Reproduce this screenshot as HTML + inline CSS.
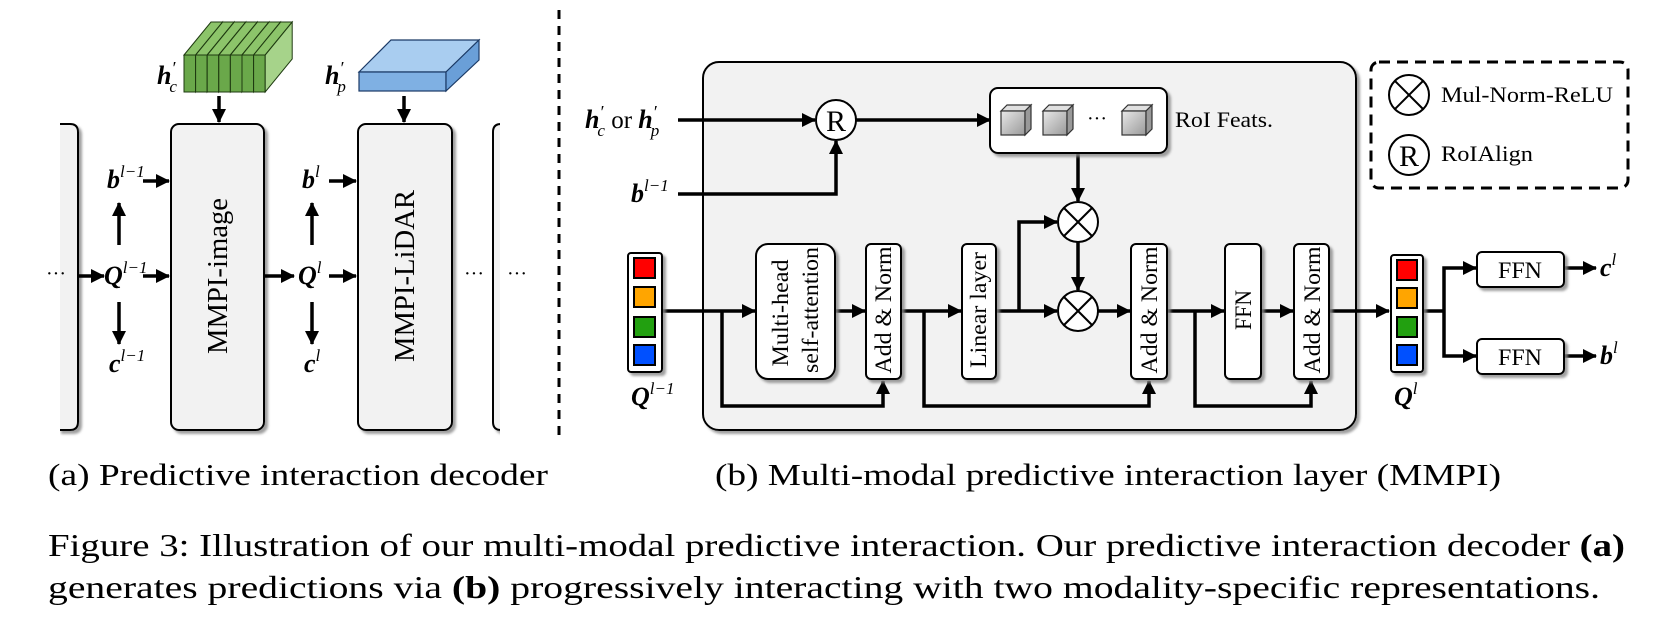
<!DOCTYPE html>
<html><head><meta charset="utf-8"><style>
html,body{margin:0;padding:0;background:#fff;}
svg{display:block;}
text{font-family:"Liberation Serif",serif;fill:#000;}
.m{font-weight:bold;font-style:italic;}
.s{font-weight:normal;font-style:italic;}
</style></head><body>
<svg width="1666" height="632" viewBox="0 0 1666 632" xmlns="http://www.w3.org/2000/svg">
<defs>
<marker id="a" markerUnits="userSpaceOnUse" markerWidth="14" markerHeight="14" refX="13" refY="7" orient="auto"><path d="M0,0 L14,7 L0,14 z" fill="#000"/></marker>
<filter id="sh" x="-10%" y="-10%" width="130%" height="130%"><feDropShadow dx="3" dy="3" stdDeviation="1.2" flood-color="#888" flood-opacity="0.8"/></filter>
<linearGradient id="cg" x1="0" y1="0" x2="1" y2="1"><stop offset="0" stop-color="#e8e8e8"/><stop offset="1" stop-color="#999"/></linearGradient>
<linearGradient id="gg" x1="0" y1="0" x2="1" y2="0"><stop offset="0" stop-color="#5e9f40"/><stop offset="1" stop-color="#8cc46a"/></linearGradient>
</defs>

<!-- Part (a) -->
<g fill="#f2f2f2" stroke="#000" stroke-width="2" filter="url(#sh)">
<path d="M58,124 L70,124 Q78,124 78,132 L78,422 Q78,430 70,430 L58,430" />
<rect x="171" y="124" width="93" height="306" rx="8"/>
<rect x="358" y="124" width="94" height="306" rx="8"/>
<path d="M513,124 L501,124 Q493,124 493,132 L493,422 Q493,430 501,430 L513,430" />
</g>
<rect x="500" y="118" width="20" height="320" fill="#fff"/>
<rect x="50" y="118" width="10" height="320" fill="#fff"/>
<text transform="translate(227,276) rotate(-90)" font-size="28" text-anchor="middle" textLength="156" lengthAdjust="spacingAndGlyphs">MMPI-image</text>
<text transform="translate(414,276) rotate(-90)" font-size="28" text-anchor="middle" textLength="172" lengthAdjust="spacingAndGlyphs">MMPI-LiDAR</text>

<!-- green block -->
<g stroke="#1e3a10" stroke-width="1" filter="url(#sh)">
<g id="sl">
</g>
</g>
<g stroke="#1e3a10" stroke-width="1">
<polygon points="184,55 211,22 223,22 196,55" fill="#8cc46a"/><rect x="184" y="55" width="11.6" height="37" fill="#6aa84a"/><polygon points="195.6,55 222.6,22 222.6,59 195.6,92" fill="#a6d38a"/>
<polygon points="195.6,55 222.6,22 234.2,22 207.2,55" fill="#8cc46a"/><rect x="195.6" y="55" width="11.6" height="37" fill="#6aa84a"/><polygon points="207.2,55 234.2,22 234.2,59 207.2,92" fill="#a6d38a"/>
<polygon points="207.2,55 234.2,22 245.8,22 218.8,55" fill="#8cc46a"/><rect x="207.2" y="55" width="11.6" height="37" fill="#6aa84a"/><polygon points="218.8,55 245.8,22 245.8,59 218.8,92" fill="#a6d38a"/>
<polygon points="218.8,55 245.8,22 257.4,22 230.4,55" fill="#8cc46a"/><rect x="218.8" y="55" width="11.6" height="37" fill="#6aa84a"/><polygon points="230.4,55 257.4,22 257.4,59 230.4,92" fill="#a6d38a"/>
<polygon points="230.4,55 257.4,22 269,22 242,55" fill="#8cc46a"/><rect x="230.4" y="55" width="11.6" height="37" fill="#6aa84a"/><polygon points="242,55 269,22 269,59 242,92" fill="#a6d38a"/>
<polygon points="242,55 269,22 280.6,22 253.6,55" fill="#8cc46a"/><rect x="242" y="55" width="11.6" height="37" fill="#6aa84a"/><polygon points="253.6,55 280.6,22 280.6,59 253.6,92" fill="#a6d38a"/>
<polygon points="253.6,55 280.6,22 292.2,22 265.2,55" fill="#8cc46a"/><rect x="253.6" y="55" width="11.6" height="37" fill="#6aa84a"/><polygon points="265.2,55 292.2,22 292.2,59 265.2,92" fill="#a6d38a"/>
</g>
<!-- blue slab -->
<g stroke="#1b3a66" stroke-width="1.2">
<polygon points="359,72 391,40 479,40 446,72" fill="#a9cdf0"/>
<rect x="359" y="72" width="87" height="19" fill="#7fb0e3"/>
<polygon points="446,72 479,40 479,60 446,91" fill="#6a9fd8"/>
</g>

<text x="157" y="84" font-size="26" class="m">h<tspan class="s" font-size="18" dy="-10">′</tspan><tspan class="s" font-size="17" dx="-6" dy="18">c</tspan></text>
<text x="325" y="84" font-size="26" class="m">h<tspan class="s" font-size="18" dy="-10">′</tspan><tspan class="s" font-size="17" dx="-6" dy="18">p</tspan></text>

<g stroke="#000" stroke-width="3.5" fill="none" marker-end="url(#a)">
<line x1="219" y1="96" x2="219" y2="122"/>
<line x1="404" y1="96" x2="404" y2="122"/>
<line x1="143" y1="181" x2="169" y2="181"/>
<line x1="119" y1="245" x2="119" y2="203"/>
<line x1="143" y1="276" x2="169" y2="276"/>
<line x1="78" y1="276" x2="104" y2="276"/>
<line x1="119" y1="302" x2="119" y2="344"/>
<line x1="264" y1="276" x2="294" y2="276"/>
<line x1="329" y1="276" x2="356" y2="276"/>
<line x1="329" y1="181" x2="356" y2="181"/>
<line x1="312" y1="245" x2="312" y2="203"/>
<line x1="312" y1="302" x2="312" y2="344"/>
</g>
<text x="107" y="188" font-size="26" class="m">b<tspan class="s" font-size="17" font-weight="normal" dy="-11">l−1</tspan></text>
<text x="104" y="284" font-size="26" class="m">Q<tspan class="s" font-size="17" dy="-11">l−1</tspan></text>
<text x="109" y="372" font-size="26" class="m">c<tspan class="s" font-size="17" dy="-11">l−1</tspan></text>
<text x="298" y="284" font-size="26" class="m">Q<tspan class="s" font-size="17" dy="-11">l</tspan></text>
<text x="302" y="188" font-size="26" class="m">b<tspan class="s" font-size="17" dy="-11">l</tspan></text>
<text x="304" y="372" font-size="26" class="m">c<tspan class="s" font-size="17" dy="-11">l</tspan></text>
<text x="46" y="280" font-size="20">···</text>
<text x="464" y="280" font-size="20">···</text>
<text x="507" y="280" font-size="20">···</text>

<line x1="559" y1="10" x2="559" y2="442" stroke="#000" stroke-width="3" stroke-dasharray="9,7"/>

<!-- Part (b) -->
<rect x="703" y="62" width="653" height="368" rx="16" fill="#f2f2f2" stroke="#000" stroke-width="2" filter="url(#sh)"/>

<text x="585" y="128" font-size="26"><tspan class="m">h</tspan><tspan class="s" font-size="18" dy="-10">′</tspan><tspan class="s" font-size="17" dx="-6" dy="18">c</tspan><tspan dy="-8" font-size="25"> or </tspan><tspan class="m">h</tspan><tspan class="s" font-size="18" dy="-10">′</tspan><tspan class="s" font-size="17" dx="-6" dy="18">p</tspan></text>
<text x="631" y="202" font-size="26" class="m">b<tspan class="s" font-size="17" dy="-11">l−1</tspan></text>

<g stroke="#000" stroke-width="3.5" fill="none">
<line x1="678" y1="120" x2="815" y2="120" marker-end="url(#a)"/>
<polyline points="678,194 836,194 836,141" marker-end="url(#a)"/>
<line x1="856" y1="120" x2="990" y2="120" marker-end="url(#a)"/>
<line x1="1078" y1="153" x2="1078" y2="201" marker-end="url(#a)"/>
<line x1="1078" y1="242" x2="1078" y2="290" marker-end="url(#a)"/>
<line x1="662" y1="311" x2="755" y2="311" marker-end="url(#a)"/>
<polyline points="722,311 722,406 883,406 883,381" marker-end="url(#a)"/>
<line x1="835" y1="311" x2="865" y2="311" marker-end="url(#a)"/>
<line x1="901" y1="311" x2="961" y2="311" marker-end="url(#a)"/>
<polyline points="924,311 924,406 1149,406 1149,381" marker-end="url(#a)"/>
<line x1="996" y1="311" x2="1057" y2="311" marker-end="url(#a)"/>
<polyline points="1019,311 1019,222 1057,222" marker-end="url(#a)"/>
<line x1="1098" y1="311" x2="1130" y2="311" marker-end="url(#a)"/>
<line x1="1167" y1="311" x2="1224" y2="311" marker-end="url(#a)"/>
<polyline points="1195,311 1195,406 1311,406 1311,381" marker-end="url(#a)"/>
<line x1="1261" y1="311" x2="1293" y2="311" marker-end="url(#a)"/>
<line x1="1329" y1="311" x2="1389" y2="311" marker-end="url(#a)"/>
<line x1="1423" y1="311" x2="1444" y2="311"/>
<polyline points="1444,311 1444,268 1476,268" marker-end="url(#a)"/>
<polyline points="1444,311 1444,356 1476,356" marker-end="url(#a)"/>
<line x1="1564" y1="268" x2="1596" y2="268" marker-end="url(#a)"/>
<line x1="1564" y1="356" x2="1596" y2="356" marker-end="url(#a)"/>
</g>

<!-- R circle -->
<circle cx="836" cy="120" r="20" fill="#fff" stroke="#000" stroke-width="2"/>
<text x="836" y="131" font-size="30" text-anchor="middle">R</text>

<!-- RoI box -->
<rect x="990" y="88" width="177" height="65" rx="8" fill="#fff" stroke="#000" stroke-width="2" filter="url(#sh)"/>
<g stroke="#333" stroke-width="1.2">
<polygon points="1001,111 1007,105 1031,105 1025,111" fill="#e0e0e0"/><rect x="1001" y="111" width="24" height="24" fill="url(#cg)"/><polygon points="1025,111 1031,105 1031,129 1025,135" fill="#999"/>
<polygon points="1043,111 1049,105 1073,105 1067,111" fill="#e0e0e0"/><rect x="1043" y="111" width="24" height="24" fill="url(#cg)"/><polygon points="1067,111 1073,105 1073,129 1067,135" fill="#999"/>
<polygon points="1122,111 1128,105 1152,105 1146,111" fill="#e0e0e0"/><rect x="1122" y="111" width="24" height="24" fill="url(#cg)"/><polygon points="1146,111 1152,105 1152,129 1146,135" fill="#999"/>
</g>
<text x="1087" y="125" font-size="20">···</text>
<text x="1175" y="127" font-size="22" textLength="98" lengthAdjust="spacingAndGlyphs">RoI Feats.</text>

<!-- otimes -->
<g fill="#fff" stroke="#000" stroke-width="2">
<circle cx="1078" cy="222" r="20"/><line x1="1064" y1="208" x2="1092" y2="236"/><line x1="1092" y1="208" x2="1064" y2="236"/>
<circle cx="1078" cy="311" r="20"/><line x1="1064" y1="297" x2="1092" y2="325"/><line x1="1092" y1="297" x2="1064" y2="325"/>
</g>

<!-- Q stacks -->
<g filter="url(#sh)"><rect x="628" y="253" width="34" height="119" rx="3" fill="#fff" stroke="#000" stroke-width="2"/></g>
<g stroke="#000" stroke-width="2">
<rect x="634" y="258" width="21" height="20" fill="#f00"/>
<rect x="634" y="287" width="21" height="20" fill="#ffa500"/>
<rect x="634" y="317" width="21" height="20" fill="#22a010"/>
<rect x="634" y="345" width="21" height="20" fill="#0050ff"/>
</g>
<text x="631" y="405" font-size="26" class="m">Q<tspan class="s" font-size="17" dy="-11">l−1</tspan></text>

<g filter="url(#sh)"><rect x="1391" y="255" width="32" height="117" rx="3" fill="#fff" stroke="#000" stroke-width="2"/></g>
<g stroke="#000" stroke-width="2">
<rect x="1397" y="260" width="20" height="20" fill="#f00"/>
<rect x="1397" y="288" width="20" height="20" fill="#ffa500"/>
<rect x="1397" y="317" width="20" height="20" fill="#22a010"/>
<rect x="1397" y="345" width="20" height="20" fill="#0050ff"/>
</g>
<text x="1394" y="405" font-size="26" class="m">Q<tspan class="s" font-size="17" dy="-11">l</tspan></text>

<!-- blocks -->
<g fill="#fff" stroke="#000" stroke-width="2" filter="url(#sh)">
<rect x="756" y="244" width="79" height="135" rx="12"/>
<rect x="866" y="244" width="35" height="135" rx="5"/>
<rect x="962" y="244" width="34" height="135" rx="5"/>
<rect x="1131" y="244" width="36" height="135" rx="5"/>
<rect x="1225" y="244" width="36" height="135" rx="5"/>
<rect x="1294" y="244" width="35" height="135" rx="5"/>
<rect x="1477" y="252" width="87" height="35" rx="5"/>
<rect x="1477" y="339" width="87" height="35" rx="5"/>
</g>
<g font-size="23">
<text transform="translate(788,313) rotate(-90)" text-anchor="middle" textLength="107" lengthAdjust="spacingAndGlyphs">Multi-head</text>
<text transform="translate(818,310) rotate(-90)" text-anchor="middle" textLength="126" lengthAdjust="spacingAndGlyphs">self-attention</text>
<text transform="translate(891,310) rotate(-90)" text-anchor="middle" textLength="127" lengthAdjust="spacingAndGlyphs">Add &amp; Norm</text>
<text transform="translate(986,310) rotate(-90)" text-anchor="middle" textLength="116" lengthAdjust="spacingAndGlyphs">Linear layer</text>
<text transform="translate(1157,310) rotate(-90)" text-anchor="middle" textLength="127" lengthAdjust="spacingAndGlyphs">Add &amp; Norm</text>
<text transform="translate(1251,310) rotate(-90)" text-anchor="middle" textLength="40" lengthAdjust="spacingAndGlyphs">FFN</text>
<text transform="translate(1320,310) rotate(-90)" text-anchor="middle" textLength="127" lengthAdjust="spacingAndGlyphs">Add &amp; Norm</text>
<text x="1520" y="278" text-anchor="middle" textLength="44" lengthAdjust="spacingAndGlyphs">FFN</text>
<text x="1520" y="365" text-anchor="middle" textLength="44" lengthAdjust="spacingAndGlyphs">FFN</text>
</g>
<text x="1600" y="276" font-size="26" class="m">c<tspan class="s" font-size="17" dy="-11">l</tspan></text>
<text x="1600" y="364" font-size="26" class="m">b<tspan class="s" font-size="17" dy="-11">l</tspan></text>

<!-- legend -->
<rect x="1371" y="62" width="257" height="126" rx="8" fill="none" stroke="#000" stroke-width="3" stroke-dasharray="11,7"/>
<g fill="#fff" stroke="#000" stroke-width="2">
<circle cx="1409" cy="95" r="20"/><line x1="1395" y1="81" x2="1423" y2="109"/><line x1="1423" y1="81" x2="1395" y2="109"/>
<circle cx="1409" cy="155" r="20"/>
</g>
<text x="1409" y="166" font-size="30" text-anchor="middle">R</text>
<text x="1441" y="102" font-size="22" textLength="172" lengthAdjust="spacingAndGlyphs">Mul-Norm-ReLU</text>
<text x="1441" y="161" font-size="22" textLength="92" lengthAdjust="spacingAndGlyphs">RoIAlign</text>

<!-- captions -->
<text x="48" y="485" font-size="31" textLength="500" lengthAdjust="spacingAndGlyphs">(a) Predictive interaction decoder</text>
<text x="715" y="485" font-size="31" textLength="786" lengthAdjust="spacingAndGlyphs">(b) Multi-modal predictive interaction layer (MMPI)</text>
<text x="48" y="556" font-size="32" textLength="1577" lengthAdjust="spacingAndGlyphs">Figure 3: Illustration of our multi-modal predictive interaction. Our predictive interaction decoder <tspan font-weight="bold">(a)</tspan></text>
<text x="48" y="598" font-size="32" textLength="1552" lengthAdjust="spacingAndGlyphs">generates predictions via <tspan font-weight="bold">(b)</tspan> progressively interacting with two modality-specific representations.</text>
</svg>
</body></html>
